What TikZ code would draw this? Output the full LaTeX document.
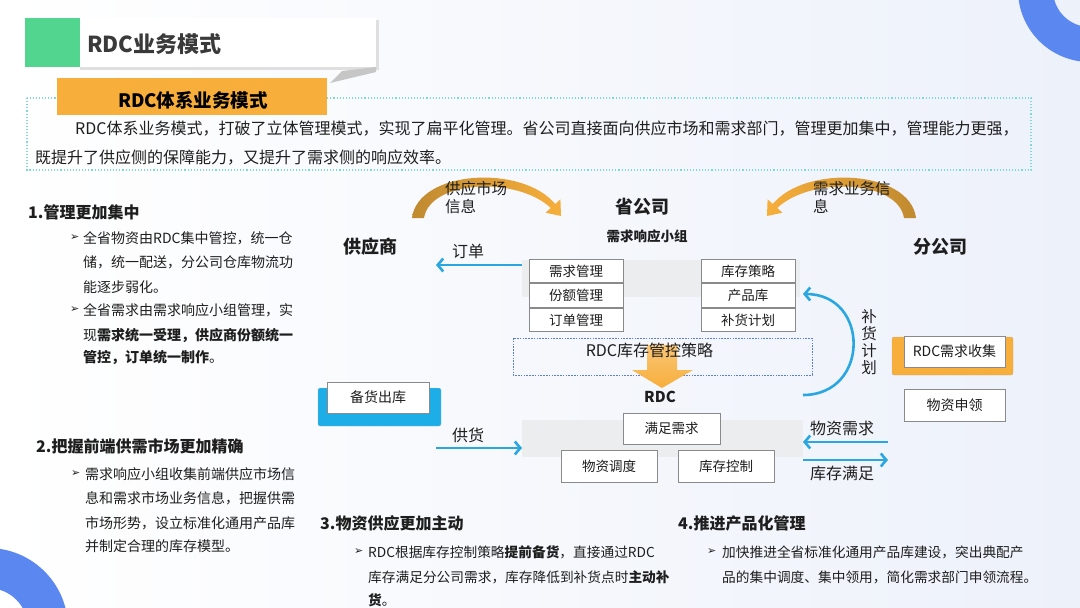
\documentclass[tikz,border=0pt]{standalone}
\usepackage{fontspec}
\setmainfont{Noto Sans CJK SC}
\newfontfamily\symf{DejaVu Sans}
\usetikzlibrary{arrows.meta}
\definecolor{bgr}{HTML}{EDF1FA}
\definecolor{ringblue}{HTML}{5B87F0}
\definecolor{titlegreen}{HTML}{52D68F}
\definecolor{titlegray}{HTML}{3A3A3A}
\definecolor{orng}{HTML}{F7AE3B}
\definecolor{arcdark}{HTML}{C08A30}
\definecolor{cyanline}{HTML}{7ED9D6}
\definecolor{txt}{HTML}{1E1E1E}
\definecolor{boxgray}{HTML}{8A8A8A}
\definecolor{band}{HTML}{ECEDEF}
\definecolor{flow}{HTML}{2AA7E0}
\definecolor{dashblue}{HTML}{5B7FC8}
\definecolor{bluefill}{HTML}{1DAEE8}
\newcommand\fs[1]{\fontsize{#1pt}{#1pt}\selectfont}
\begin{document}
\begin{tikzpicture}[x=1pt,y=-1pt,
  every node/.style={inner sep=0pt, text=txt},
  txtl/.style={anchor=west, font=\fs{14}},
  txtm/.style={anchor=west, font=\fs{13.7}},
  head/.style={anchor=west, font=\fs{16}\bfseries},
  bul/.style={anchor=west, font=\fs{11}\symf},
  boxn/.style={draw=boxgray, fill=white, line width=0.8pt, font=\fs{13.5}},
  bigname/.style={font=\fs{18}\bfseries},
  lbl/.style={font=\fs{16}},
  flowarrow/.style={draw=flow, line width=2.6pt, -{Straight Barb[length=5.5pt,width=13pt]}}
]
\useasboundingbox (0,0) rectangle (1080,608);
\shade[left color=white, right color=bgr] (0,0) rectangle (1080,608);
% decorative rings
\fill[ringblue, even odd rule] (1090,-10) circle[radius=72pt] (1090,-10) circle[radius=37pt];
\fill[ringblue, even odd rule] (-12,628) circle[radius=80pt] (-12,628) circle[radius=40pt];

% title bar
\fill[gray!25] (80,20) rectangle (379,70);
\fill[white] (78,18) rectangle (376,67);
\fill[titlegreen] (25,18) rectangle (80,67);
\fill[gray!45] (342,71) -- (376,67) -- (376,72) -- (330,83) -- cycle;
\node[anchor=west, font=\fs{22}\bfseries, text=titlegray] (title) at (87,44) {RDC业务模式};

% intro box
\draw[cyanline, dotted, line width=1.1pt] (27,98) rectangle (1031,170);
\fill[orng] (57,78) rectangle (327,115);
\node[font=\fs{18.5}\bfseries, text=black] (sub) at (193,100) {RDC体系业务模式};
\node[anchor=west, font=\fs{16}] (p1) at (75,129) {RDC体系业务模式，打破了立体管理模式，实现了扁平化管理。省公司直接面向供应市场和需求部门，管理更加集中，管理能力更强，};
\node[anchor=west, font=\fs{16}] (p2) at (35,158) {既提升了供应侧的保障能力，又提升了需求侧的响应效率。};

% section 1
\node[head] (h1) at (28,212) {1.管理更加集中};
\node[bul] (b11) at (70,238) {➢};
\node[txtl] (l11) at (83,238) {全省物资由RDC集中管控，统一仓};
\node[txtl] (l12) at (83,262) {储，统一配送，分公司仓库物流功};
\node[txtl] (l13) at (83,287) {能逐步弱化。};
\node[bul] (b12) at (70,310) {➢};
\node[txtl] (l14) at (83,310) {全省需求由需求响应小组管理，实};
\node[txtl] (l15) at (83,335) {现{\bfseries 需求统一受理，供应商份额统一}};
\node[txtl] (l16) at (83,358) {{\bfseries 管控，订单统一制作}。};

% section 2
\node[head] (h2) at (36,446) {2.把握前端供需市场更加精确};
\node[bul] (b21) at (71,474) {➢};
\node[txtl] (l21) at (85,474) {需求响应小组收集前端供应市场信};
\node[txtl] (l22) at (85,498) {息和需求市场业务信息，把握供需};
\node[txtl] (l23) at (85,523) {市场形势，设立标准化通用产品库};
\node[txtl] (l24) at (85,546) {并制定合理的库存模型。};

% section 3
\node[head] (h3) at (320,523) {3.物资供应更加主动};
\node[bul] (b31) at (354,552) {➢};
\node[txtm] (l31) at (368,552) {RDC根据库存控制策略{\bfseries 提前备货}，直接通过RDC};
\node[txtm] (l32) at (368,577) {库存满足分公司需求，库存降低到补货点时{\bfseries 主动补}};
\node[txtm] (l33) at (368,600) {{\bfseries 货}。};

% section 4
\node[head] (h4) at (678,523) {4.推进产品化管理};
\node[bul] (b41) at (707,552) {➢};
\node[txtm] (l41) at (722,552) {加快推进全省标准化通用产品库建设，突出典配产};
\node[txtm] (l42) at (722,577) {品的集中调度、集中领用，简化需求部门申领流程。};

% ---------- diagram ----------
\node[bigname] (sup) at (370,247) {供应商};
\node[bigname] (prov) at (642,207) {省公司};
\node[font=\fs{13.5}\bfseries] (grp) at (647,236) {需求响应小组};
\node[bigname] (br) at (940,247) {分公司};

% orange info arcs
\shade[left color=arcdark, right color=orng]
  (412,218) .. controls (418,170) and (522,164) .. (555.2,204) -- (560.4,199.3) -- (561,216)
  -- (545.6,212.7) -- (550.8,208) .. controls (517,176) and (430,180) .. (424,218) -- cycle;
\shade[left color=orng, right color=arcdark]
  (916,218) .. controls (910,170) and (806,164) .. (772.8,204) -- (767.6,199.3) -- (767,216)
  -- (782.4,212.7) -- (777.2,208) .. controls (811,176) and (898,180) .. (904,218) -- cycle;
\node[font=\fontsize{15.5pt}{18pt}\selectfont, align=left, anchor=north west] (infoL) at (445,181) {供应市场\\信息};
\node[font=\fontsize{15.5pt}{18pt}\selectfont, align=left, anchor=north west] (infoR) at (813,181) {需求业务信\\息};

% gray bands
\fill[band] (522,260) rectangle (800,297);
\fill[band] (522,420) rectangle (803,457);

% left stack
\node[boxn, minimum width=94pt, minimum height=23.7pt] (dm) at (576,271) {需求管理};
\node[boxn, minimum width=94pt, minimum height=23.7pt, anchor=north] (qm) at (dm.south) {份额管理};
\node[boxn, minimum width=94pt, minimum height=23.7pt, anchor=north] (om) at (qm.south) {订单管理};
% right stack
\node[boxn, minimum width=94pt, minimum height=23.7pt] (is) at (748,271) {库存策略};
\node[boxn, minimum width=94pt, minimum height=23.7pt, anchor=north] (pl) at (is.south) {产品库};
\node[boxn, minimum width=94pt, minimum height=23.7pt, anchor=north] (rp) at (pl.south) {补货计划};

% order arrow
\coordinate (ordS) at (522,265);
\coordinate (ordE) at (436,265);
\draw[flowarrow] (ordS) -- (ordE);
\node[lbl] (ord) at (468,251) {订单};

% strategy dashed box and big arrow
\draw[dashblue, dash pattern=on 1.6pt off 1.2pt, line width=0.7pt] (513,338) rectangle (812,375);
\shade[top color=orng!70, bottom color=orng]
  (647,345) -- (677,345) -- (677,370) -- (693,370) -- (662,388) -- (632,370) -- (647,370) -- cycle;
\node[font=\fs{16}] (strat) at (649.5,350) {RDC库存管控策略};
\node[font=\fs{15}\bfseries] (rdc) at (660,397) {RDC};

% RDC boxes
\node[boxn, minimum width=97pt, minimum height=31pt] (meet) at (671.5,428.5) {满足需求};
\node[boxn, minimum width=96pt, minimum height=32pt] (disp) at (609,466) {物资调度};
\node[boxn, minimum width=96pt, minimum height=32pt] (ictl) at (726,466) {库存控制};

% replenishment arc
\coordinate (repS) at (803,395);
\coordinate (repE) at (803,294);
\draw[draw=flow, line width=2.6pt, -{Straight Barb[length=5.5pt,width=13pt]}]
  (repS) .. controls (870,395) and (870,294) .. (repE);
\node[align=center, font=\fontsize{15.5pt}{17pt}\selectfont] (repl) at (869,342) {补\\货\\计\\划};

% supplier stock box
\draw[fill=bluefill, draw=gray!60, dash pattern=on 1.5pt off 1pt, rounded corners=2pt] (318,388) rectangle (441,426);
\node[boxn, minimum width=102pt, minimum height=31pt, font=\fs{14}] (stock) at (378,397.5) {备货出库};

% supply arrow
\coordinate (supS) at (436,448);
\coordinate (supE) at (522,448);
\draw[flowarrow] (supS) -- (supE);
\node[lbl] (sup2) at (468,435) {供货};

% branch boxes
\draw[fill=orng, draw=gray!70, dash pattern=on 1.5pt off 1pt, rounded corners=2pt] (892,337) rectangle (1013,375);
\node[boxn, minimum width=101pt, minimum height=31pt, font=\fs{14}] (coll) at (954.5,351.5) {RDC需求收集};
\node[boxn, minimum width=101pt, minimum height=32pt, font=\fs{14}] (appl) at (954.5,405) {物资申领};

% demand arrows
\coordinate (dmS) at (888,442);
\coordinate (dmE) at (803,442);
\draw[flowarrow] (dmS) -- (dmE);
\node[lbl] (dml) at (842,428) {物资需求};
\coordinate (sfS) at (803,460);
\coordinate (sfE) at (888,460);
\draw[flowarrow] (sfS) -- (sfE);
\node[lbl] (sfl) at (842,473) {库存满足};
\end{tikzpicture}
\end{document}
